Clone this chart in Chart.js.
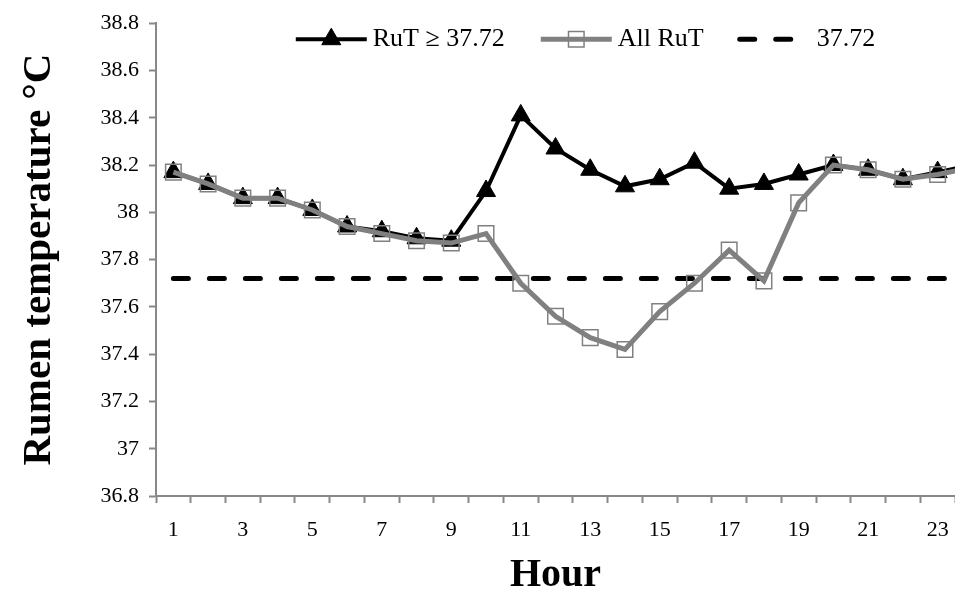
<!DOCTYPE html>
<html>
<head>
<meta charset="utf-8">
<script src="https://cdn.jsdelivr.net/npm/chart.js@4.4.1/dist/chart.umd.min.js"></script>
<style>
  body { margin: 0; background: #fff; }
  #wrap { width: 955px; height: 596px; }
</style>
</head>
<body>
<div id="wrap"><canvas id="rumenChart"></canvas></div>
<script>
// hours of the day (hour 24 is cut off at the right edge, as in the original)
const hours = [1, 2, 3, 4, 5, 6, 7, 8, 9, 10, 11, 12, 13, 14, 15, 16, 17, 18, 19, 20, 21, 22, 23, 24];
const rutHigh = [38.17, 38.12, 38.06, 38.06, 38.01, 37.94, 37.92, 37.89, 37.88, 38.09, 38.41, 38.27,
                 38.18, 38.11, 38.14, 38.21, 38.10, 38.12, 38.16, 38.20, 38.18, 38.14, 38.17, 38.20];
const allRut = [38.17, 38.12, 38.06, 38.06, 38.01, 37.94, 37.91, 37.88, 37.87, 37.91, 37.70, 37.56,
                37.47, 37.42, 37.58, 37.70, 37.84, 37.71, 38.04, 38.20, 38.18, 38.14, 38.16, 38.19];
const threshold = 37.72;
const seriesNames = ['RuT \u2265 37.72', 'All RuT', '37.72'];
const yLabels = ['36.8', '37', '37.2', '37.4', '37.6', '37.8', '38', '38.2', '38.4', '38.6', '38.8'];

const serif = '"Liberation Serif", "Times New Roman", serif';

// excel-like legend: line sample with the marker in the middle
const excelLegend = {
  id: 'excelLegend',
  afterDraw(chart) {
    const ctx = chart.ctx;
    const area = chart.chartArea;
    const y = area.top + 16;
    const lineLen = 71, textGap = 6, itemGap = 36;
    ctx.save();
    ctx.font = '26px ' + serif;
    ctx.textBaseline = 'middle';
    ctx.fillStyle = '#000';
    const sets = chart.data.datasets;
    let total = 0;
    sets.forEach(ds => { total += lineLen + textGap + ctx.measureText(ds.label).width; });
    total += itemGap * (sets.length - 1);
    let x = (area.left + area.right) / 2 + 30 - total / 2;
    sets.forEach(ds => {
      ctx.strokeStyle = ds.borderColor;
      ctx.lineWidth = ds.borderWidth;
      ctx.lineCap = ds.borderCapStyle || 'butt';
      ctx.setLineDash(ds.borderDash || []);
      ctx.beginPath();
      ctx.moveTo(x, y);
      ctx.lineTo(x + lineLen, y);
      ctx.stroke();
      ctx.setLineDash([]);
      ctx.lineCap = 'butt';
      const cx = x + lineLen / 2, r = ds.pointRadius;
      if (r > 0) {
        ctx.fillStyle = ds.pointBackgroundColor;
        ctx.strokeStyle = ds.pointBorderColor;
        ctx.lineWidth = ds.pointBorderWidth;
        ctx.beginPath();
        if (ds.pointStyle === 'triangle') {
          ctx.moveTo(cx, y - r);
          ctx.lineTo(cx + r * 0.866, y + r / 2);
          ctx.lineTo(cx - r * 0.866, y + r / 2);
          ctx.closePath();
        } else {
          const s = r * Math.SQRT1_2;
          ctx.rect(cx - s, y - s, 2 * s, 2 * s);
        }
        ctx.fill();
        ctx.stroke();
      }
      ctx.fillStyle = '#000';
      ctx.fillText(ds.label, x + lineLen + textGap, y);
      x += lineLen + textGap + ctx.measureText(ds.label).width + itemGap;
    });
    ctx.restore();
  }
};

const ctx = document.getElementById('rumenChart').getContext('2d');
new Chart(ctx, {
  type: 'line',
  data: {
    datasets: [
      {
        label: seriesNames[0],
        data: hours.map((h, i) => ({ x: h, y: rutHigh[i] })),
        borderColor: '#000',
        borderWidth: 4,
        pointStyle: 'triangle',
        pointRadius: 11,
        pointBackgroundColor: '#000',
        pointBorderColor: '#000',
        pointBorderWidth: 1,
        tension: 0,
        order: 2
      },
      {
        label: seriesNames[1],
        data: hours.map((h, i) => ({ x: h, y: allRut[i] })),
        borderColor: '#808080',
        borderWidth: 5,
        pointStyle: 'rect',
        pointRadius: 11,
        pointBackgroundColor: 'rgba(0,0,0,0)',
        pointBorderColor: '#808080',
        pointBorderWidth: 1.5,
        tension: 0,
        order: 1
      },
      {
        label: seriesNames[2],
        data: hours.map(h => ({ x: h, y: threshold })),
        borderColor: '#000',
        borderWidth: 5,
        borderDash: [15, 21],
        borderCapStyle: 'round',
        pointRadius: 0,
        tension: 0,
        order: 3
      }
    ]
  },
  options: {
    responsive: true,
    maintainAspectRatio: false,
    animation: false,
    layout: { autoPadding: false, padding: { top: 21, right: 0, left: 0, bottom: 0 } },
    plugins: {
      legend: { display: false },
      tooltip: { enabled: false }
    },
    scales: {
      x: {
        type: 'linear',
        min: 0.5,
        max: 23.5,
        afterFit: s => { s.height = 100; s.paddingLeft = 0; s.paddingRight = 0; },
        afterBuildTicks: s => {
          const t = [];
          for (let v = 0.5; v <= 23.5; v += 0.5) t.push({ value: v });
          s.ticks = t;
        },
        ticks: {
          autoSkip: false,
          maxRotation: 0,
          padding: 14,
          color: '#000',
          font: { family: serif, size: 22 },
          callback: v => (v % 2 === 1 ? String(v) : '')
        },
        grid: {
          drawOnChartArea: false,
          drawTicks: true,
          tickLength: 7,
          tickWidth: 2,
          tickColor: c => (c.tick && c.tick.value % 1 === 0.5 ? '#888' : 'rgba(0,0,0,0)')
        },
        border: { color: '#888', width: 2 },
        title: {
          display: true,
          text: 'Hour',
          color: '#000',
          font: { family: serif, size: 40, weight: 'bold', lineHeight: 1 },
          padding: { top: 0, bottom: 0 }
        }
      },
      y: {
        min: 36.8,
        max: 38.8,
        afterFit: s => { s.width = 156; },
        afterBuildTicks: s => {
          s.ticks = yLabels.map(l => ({ value: parseFloat(l) }));
        },
        ticks: {
          padding: 10,
          color: '#000',
          font: { family: serif, size: 22 },
          callback: (v, i) => yLabels[i]
        },
        grid: {
          drawOnChartArea: false,
          drawTicks: true,
          tickLength: 7,
          tickWidth: 2,
          tickColor: '#888'
        },
        border: { color: '#888', width: 2 },
        title: {
          display: true,
          text: 'Rumen temperature \u00B0C',
          color: '#000',
          font: { family: serif, size: 41, weight: 'bold', lineHeight: 1.2 },
          padding: { top: 15, bottom: 0 }
        }
      }
    }
  },
  plugins: [excelLegend]
});
</script>
</body>
</html>
